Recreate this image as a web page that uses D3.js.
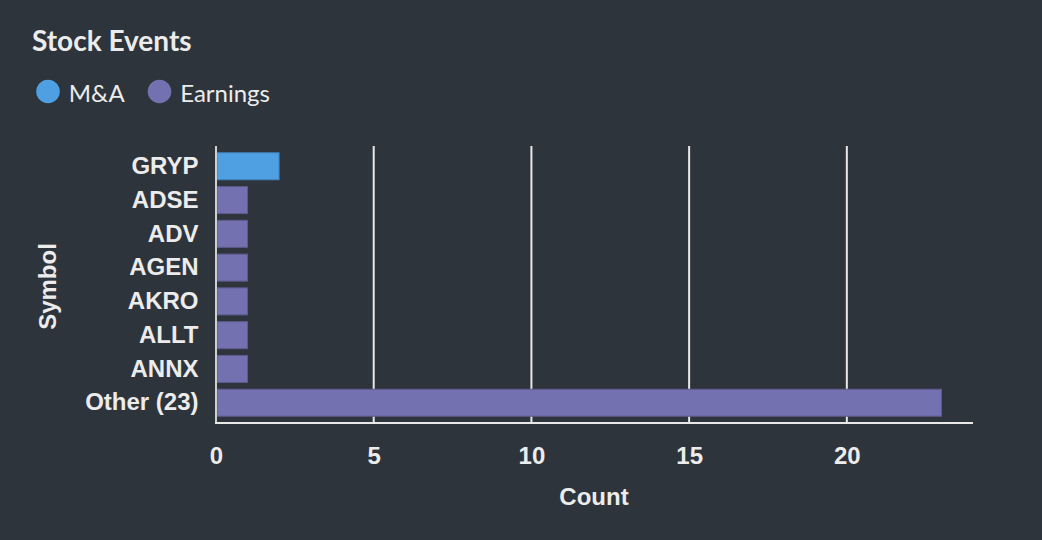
<!DOCTYPE html>
<html>
<head>
<meta charset="utf-8">
<script src="https://cdn.jsdelivr.net/npm/d3@7"></script>
<style>
html,body{margin:0;padding:0;background:#2e343b;}
svg{display:block;}
</style>
</head>
<body>
<svg id="chart" width="1042" height="540"></svg>
<script>
const categories = ["GRYP","ADSE","ADV","AGEN","AKRO","ALLT","ANNX","Other (23)"];
const counts = [2,1,1,1,1,1,1,23];
const eventTypes = ["M&A","Earnings","Earnings","Earnings","Earnings","Earnings","Earnings","Earnings"];
const legendLabels = ["M&A","Earnings"];
const legendColors = ["#4fa0e3","#7371b0"];
const xTicks = [0,5,10,15,20];

const svg = d3.select("#chart");
const W = 1042, H = 540;
svg.append("rect").attr("width",W).attr("height",H).attr("fill","#2e343b");

const textColor = "#ececec";
const axisFont = "Liberation Sans, Arial, sans-serif";
const m = {left:216, right:973, top:146, bottom:423};

const x = d3.scaleLinear().domain([0,24]).range([m.left, m.right]);
const y = d3.scaleBand().domain(categories).range([m.top, m.bottom]).paddingInner(0.2).paddingOuter(0.2);
const color = d3.scaleOrdinal().domain(legendLabels).range(legendColors);

// title
svg.append("text").attr("x",32).attr("y",51).text("Stock Events")
  .attr("fill",textColor).attr("font-family","Lato").attr("font-weight","bold").attr("font-size",28);

// legend
const leg = svg.append("g");
const legX = [48, 159.5];
legendLabels.forEach((l,i)=>{
  const cx = legX[i];
  leg.append("circle").attr("cx",cx).attr("cy",91.5).attr("r",11.8).attr("fill",legendColors[i]);
  leg.append("text").attr("x",cx+20.7).attr("y",101.5).text(l)
    .attr("fill",textColor).attr("font-family","Lato").attr("font-size",24);
});

// gridlines
svg.append("g").selectAll("line").data(xTicks.filter(d=>d>0)).join("line")
  .attr("x1",d=>x(d)).attr("x2",d=>x(d)).attr("y1",m.top).attr("y2",m.bottom)
  .attr("stroke","#e8e8e8").attr("stroke-width",2);

// bars
svg.append("g").selectAll("rect").data(categories).join("rect")
  .attr("x",x(0)+1).attr("y",d=>y(d))
  .attr("width",(d,i)=>x(counts[i])-x(0)-1)
  .attr("height",y.bandwidth())
  .attr("fill",(d,i)=>color(eventTypes[i]))
  .attr("stroke",(d,i)=>d3.color(color(eventTypes[i])).darker(0.6))
  .attr("stroke-width",1);

// y axis line
svg.append("line").attr("x1",m.left).attr("x2",m.left).attr("y1",m.top).attr("y2",m.bottom+1)
  .attr("stroke","#cfcfcf").attr("stroke-width",2);
// x axis line
svg.append("line").attr("x1",m.left-1).attr("x2",m.right).attr("y1",m.bottom).attr("y2",m.bottom)
  .attr("stroke","#e8e8e8").attr("stroke-width",2);

// y axis labels
const yAxis = d3.axisLeft(y).tickSize(0).tickPadding(17.5);
const yg = svg.append("g").attr("transform",`translate(${m.left},0)`).call(yAxis);
yg.select(".domain").remove();
yg.selectAll("text").attr("fill",textColor).attr("font-family",axisFont).attr("font-weight","bold").attr("font-size",24);

// x axis labels
const xAxis = d3.axisBottom(x).tickValues(xTicks).tickSize(0).tickPadding(23.5);
const xg = svg.append("g").attr("transform",`translate(0,${m.bottom})`).call(xAxis);
xg.select(".domain").remove();
xg.selectAll("text").attr("fill",textColor).attr("font-family",axisFont).attr("font-weight","bold").attr("font-size",24);

// axis titles
svg.append("text").attr("x",594).attr("y",504.5).attr("text-anchor","middle").text("Count")
  .attr("fill",textColor).attr("font-family",axisFont).attr("font-weight","bold").attr("font-size",24);
svg.append("text").attr("transform","translate(55.5,286.5) rotate(-90)").attr("text-anchor","middle").text("Symbol")
  .attr("fill",textColor).attr("font-family",axisFont).attr("font-weight","bold").attr("font-size",24);
</script>
</body>
</html>
